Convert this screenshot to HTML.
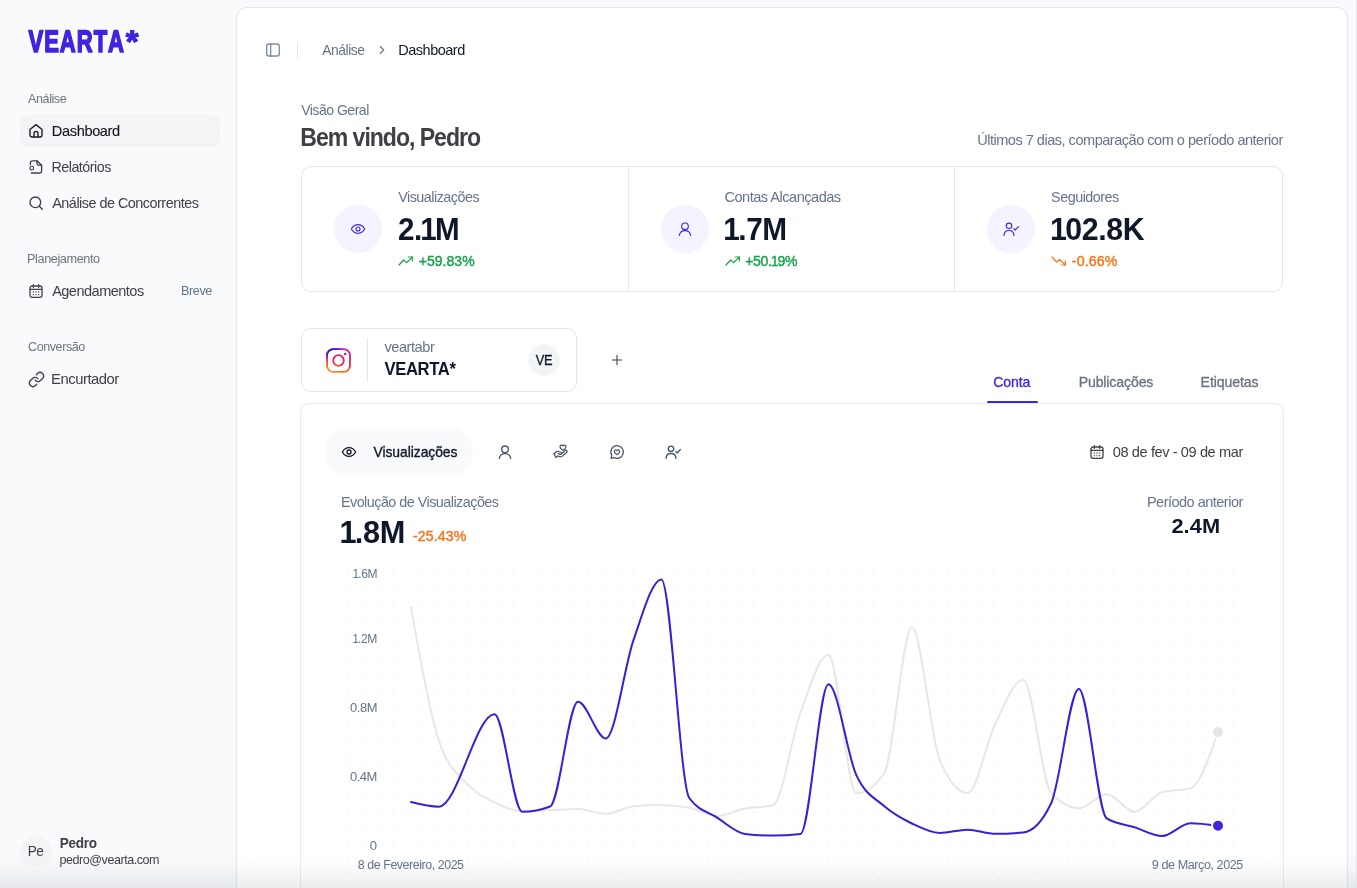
<!DOCTYPE html>
<html lang="pt-BR">
<head>
<meta charset="utf-8">
<title>VEARTA* - Dashboard</title>
<style>

*{box-sizing:border-box;margin:0;padding:0}
html,body{width:1357px;height:888px;overflow:hidden}
body{background:#f8fafc;font-family:"Liberation Sans",sans-serif;position:relative;color:#0f172a}
.t{position:absolute;white-space:nowrap;line-height:1;font-weight:400;display:block;transform-origin:0 50%}
h1,h2,h3,p,strong,small{font-weight:400}
ul,ol{list-style:none}
button{background:none;border:0;font:inherit;color:inherit;display:inline}
a{color:inherit;text-decoration:none}
.t b.k{font-weight:inherit;margin:0 -0.045em 0 -0.06em}
.ic{position:absolute;display:block;overflow:visible}
.sidebar{position:absolute;left:0;top:0;width:236px;height:888px}
.logo{position:absolute;left:28px;top:28px;overflow:visible}
.item{position:absolute;left:20px;width:200px;height:32px;border-radius:8px;background:#f3f4f6}
.avatar{position:absolute;width:32px;height:32px;border-radius:50%;background:#f4f5f7}
.panel{position:absolute;left:236px;top:7px;width:1112px;height:900px;background:#fff;border:1px solid #e2e8f0;border-radius:11px;box-shadow:0 1px 2px rgba(15,23,42,.06)}
main{position:absolute;left:0;top:0;width:1357px;height:888px}
.card{position:absolute;border:1px solid #e2e8f0;border-radius:10px;background:#fff}
.card.chart{border-color:#ebecee}
.vline{position:absolute;top:0;bottom:0;width:1px;background:#e2e8f0}
.vsep{position:absolute;width:1px;background:#e2e8f0}
.bubble{position:absolute;width:48px;height:48px;border-radius:50%;background:#f5f3ff}
.pill{position:absolute;border-radius:24px;background:#f8fafc}
.tabline{position:absolute;height:2px;background:#3f24e2;border-radius:1px}
.plot{position:absolute;left:0;top:0}
.fade{position:absolute;left:0;top:855px;width:1357px;height:33px;background:linear-gradient(to bottom,rgba(15,23,42,0),rgba(15,23,42,.01) 25%,rgba(15,23,42,.03) 50%,rgba(15,23,42,.052) 75%,rgba(15,23,42,.085));pointer-events:none}
.edge{position:absolute;left:1356px;top:0;width:1px;height:888px;background:#e4e6ec}

</style>
</head>
<body>
<aside class="sidebar" aria-label="Menu lateral">
<a class="brand" title="VEARTA*">
<svg class="logo" width="130" height="36" viewBox="0 0 130 36" role="img" aria-label="VEARTA*"><text transform="translate(0.45 24.12) rotate(0.03) scale(0.7332 1.0324)" font-family="Liberation Sans, sans-serif" font-weight="700" font-size="30" fill="#3f24e2" stroke="#3f24e2" stroke-linejoin="round" stroke-width="1.5" vector-effect="non-scaling-stroke" letter-spacing="1.4" style="font-kerning:none">VEARTA<tspan x="132.75" dy="0.20" font-size="31.05" letter-spacing="0" stroke-width="1.1" textLength="17.42" lengthAdjust="spacingAndGlyphs">*</tspan></text></svg>
</a>
<nav aria-label="Principal">
<section class="group">
<h2 class="t" id="g1" style="left:28.00px;top:93.11px;font-size:12.6px;color:#70747f;letter-spacing:-0.441px;transform:translateX(0.07px) scaleX(0.9986);">Análise</h2>
<ul>
<li><a class="nav active" aria-current="page"><span class="item" style="top:115px"></span>
<svg class="ic" style="left:28px;top:123px;color:#1f2029" width="16" height="16" viewBox="0 0 24 24" fill="none" stroke="currentColor" stroke-width="2.1" stroke-linecap="round" stroke-linejoin="round" ><path d="M3 9.800 12 2.400l9 7.400V18a3 3 0 0 1-3 3H6a3 3 0 0 1-3-3z"/><path d="M9 21v-5.200a3 3 0 0 1 6 0V21"/></svg>
<span class="t" id="m1" style="left:51.00px;top:124.11px;font-size:14.2px;color:#14161f;letter-spacing:-0.365px;-webkit-text-stroke:0.12px #14161f;transform:translateX(0.83px) scaleX(1.0284);">Dashboard</span>
</a></li>
<li><a class="nav">
<svg class="ic" style="left:28px;top:159px;color:#3f3f46" width="16" height="16" viewBox="0 0 24 24" fill="none" stroke="currentColor" stroke-width="2" stroke-linecap="round" stroke-linejoin="round" ><path d="M3.600 8.300V5.700a3 3 0 0 1 3-3h6.900l6.900 6.600v8.700a3 3 0 0 1-3 3H5.200"/><path d="M13.500 2.700v4a2.500 2.500 0 0 0 2.500 2.500h4.400"/><circle cx="5.600" cy="13.600" r="2.800" stroke-width="1.700"/></svg>
<span class="t" id="m2" style="left:51.00px;top:160.11px;font-size:14.5px;color:#3f3f46;letter-spacing:-0.508px;transform:translateX(0.44px) scaleX(0.9857);">Relatórios</span>
</a></li>
<li><a class="nav">
<svg class="ic" style="left:28px;top:195px;color:#3f3f46" width="16" height="16" viewBox="0 0 24 24" fill="none" stroke="currentColor" stroke-width="2" stroke-linecap="round" stroke-linejoin="round" ><circle cx="11" cy="11" r="8"/><path d="m17 17 4.5 4.5"/></svg>
<span class="t" id="m3" style="left:52.00px;top:196.11px;font-size:14.5px;color:#3f3f46;letter-spacing:-0.508px;transform:translateX(0.27px) scaleX(0.9930);">Análise de Concorrentes</span>
</a></li>
</ul></section>
<section class="group">
<h2 class="t" id="g2" style="left:27.00px;top:253.11px;font-size:12.6px;color:#70747f;letter-spacing:-0.441px;transform:translateX(0.05px) scaleX(1.0129);">Planejamento</h2>
<ul><li><a class="nav">
<svg class="ic" style="left:28px;top:283px;color:#3f3f46" width="16" height="16" viewBox="0 0 24 24" fill="none" stroke="currentColor" stroke-width="1.9" stroke-linecap="round" stroke-linejoin="round" ><rect x="3" y="4.5" width="18" height="17" rx="3"/><path d="M3 9.5h18M8 2.5v4M16 2.5v4"/><path d="M8 13.5h.01M12 13.5h.01M16 13.5h.01M8 17.5h.01M12 17.5h.01M16 17.5h.01" stroke-width="2"/></svg>
<span class="t" id="m4" style="left:52.00px;top:284.11px;font-size:14.5px;color:#3f3f46;letter-spacing:-0.508px;transform:translateX(0.13px) scaleX(1.0011);">Agendamentos</span>
<small class="t" id="m4b" style="left:181.00px;top:285.11px;font-size:12.6px;color:#64748b;letter-spacing:-0.441px;transform:translateX(0.09px) scaleX(1.0019);">Breve</small>
</a></li></ul></section>
<section class="group">
<h2 class="t" id="g3" style="left:27.00px;top:341.11px;font-size:12.6px;color:#70747f;letter-spacing:-0.441px;transform:translateX(0.99px) scaleX(0.9984);">Conversão</h2>
<ul><li><a class="nav">
<svg class="ic" style="left:27.5px;top:370.5px;color:#3f3f46" width="17" height="17" viewBox="0 0 24 24" fill="none" stroke="currentColor" stroke-width="1.9" stroke-linecap="round" stroke-linejoin="round" ><path d="M10 13a5 5 0 0 0 7.540.540l3-3a5 5 0 0 0-7.070-7.070l-1.720 1.710"/><path d="M14 11a5 5 0 0 0-7.540-.540l-3 3a5 5 0 0 0 7.070 7.070l1.710-1.710"/></svg>
<span class="t" id="m5" style="left:51.00px;top:372.11px;font-size:14.5px;color:#3f3f46;letter-spacing:-0.482px;transform:translateX(0.11px) scaleX(1.0225);">Encurtador</span>
</a></li></ul></section>
</nav>
<footer class="user">
<div class="avatar" style="left:20px;top:835px"></div>
<span class="t" id="u0" style="left:27.00px;top:844.11px;font-size:14.5px;color:#3f3f46;letter-spacing:-0.508px;transform:translateX(0.69px) scaleX(0.9381);">Pe</span>
<strong class="t" id="u1" style="left:59.00px;top:836.11px;font-size:14.5px;color:#3f3f46;font-weight:700;letter-spacing:-0.290px;transform:translateX(0.70px) scaleX(0.9345);">Pedro</strong>
<span class="t" id="u2" style="left:59.00px;top:854.11px;font-size:12.6px;color:#3f3f46;letter-spacing:-0.441px;transform:translateX(0.52px) scaleX(0.9935);">pedro@vearta.com</span>
</footer>
</aside>
<main>
<div class="panel"></div>
<header class="topbar">
<button class="toggle" aria-label="Alternar menu">
<svg class="ic" style="left:265px;top:42px;color:#7f8ba0" width="16" height="16" viewBox="0 0 24 24" fill="none" stroke="currentColor" stroke-width="2" stroke-linecap="round" stroke-linejoin="round" ><rect x="2.5" y="3" width="19" height="18" rx="3.5"/><path d="M8.5 3v18"/></svg>
</button>
<div class="vsep" style="left:297px;top:42px;height:16px"></div>
<nav class="breadcrumb" aria-label="breadcrumb"><ol><li>
<span class="t" id="b1" style="left:322.00px;top:43.11px;font-size:14.5px;color:#64748b;letter-spacing:-0.508px;transform:translateX(0.33px) scaleX(0.9558);">Análise</span>
</li><li aria-hidden="true">
<svg class="ic" style="left:375px;top:43px;color:#64748b" width="14" height="14" viewBox="0 0 24 24" fill="none" stroke="currentColor" stroke-width="2" stroke-linecap="round" stroke-linejoin="round" ><path d="m9 6 6 6-6 6"/></svg>
</li><li>
<span class="t" id="b2" style="left:398.00px;top:43.11px;font-size:14.5px;color:#0f172a;letter-spacing:-0.508px;transform:translateX(0.29px) scaleX(1.0009);">Dashboard</span>
</li></ol></nav>
</header>
<section class="hero">
<p class="t" id="h0" style="left:301.00px;top:103.11px;font-size:14.5px;color:#64748b;letter-spacing:-0.508px;transform:translateX(0.13px) scaleX(0.9676);">Visão Geral</p>
<h1 class="t" id="h1" style="left:300.00px;top:125.10px;font-size:25.4px;color:#3f3f46;font-weight:700;letter-spacing:-1.143px;transform:translateX(0.31px) scaleX(0.9094);">Bem vindo, Pedro</h1>
<p class="t" id="h2" style="left:977.00px;top:133.11px;font-size:14.5px;color:#64748b;letter-spacing:-0.503px;transform:translateX(0.13px) scaleX(1.0047);">Últimos 7 dias, comparação com o período anterior</p>
</section>
<section class="stats-wrap" aria-label="Resumo">
<div class="card stats" style="left:301px;top:166px;width:982px;height:126px">
<div class="vline" style="left:326px"></div><div class="vline" style="left:652px"></div>
</div>
<article class="stat">
<div class="bubble" style="left:334px;top:205px"></div>
<svg class="ic" style="left:350px;top:221px;color:#3f24e2" width="16" height="16" viewBox="0 0 24 24" fill="none" stroke="currentColor" stroke-width="1.7" stroke-linecap="round" stroke-linejoin="round" ><path d="M2 12c2.4-4.3 5.8-6.5 10-6.5s7.600 2.2 10 6.500c-2.400 4.300-5.800 6.500-10 6.500S4.400 16.300 2 12z"/><circle cx="12" cy="12" r="3"/></svg>
<h3 class="t" id="s0a" style="left:398.00px;top:190.11px;font-size:14.5px;color:#64748b;letter-spacing:-0.508px;transform:translateX(0.20px) scaleX(0.9890);">Visualizações</h3>
<strong class="t" id="s0b" style="left:397.00px;top:214.11px;font-size:31px;color:#0f172a;font-weight:700;letter-spacing:-0.372px;transform:translateX(0.95px) scaleX(0.9540);">2.<b class="k">1</b>M</strong>
<svg class="ic" style="left:398px;top:253px;color:#16a34a" width="16" height="16" viewBox="0 0 24 24" fill="none" stroke="currentColor" stroke-width="1.8" stroke-linecap="round" stroke-linejoin="round" ><path d="M1.500 18 8.500 10.500l4.500 4L21.500 6"/><path d="M15.500 6h6v6"/></svg>
<span class="t" id="s0c" style="left:418.00px;top:255.11px;font-size:13.9px;color:#16a34a;letter-spacing:0.044px;-webkit-text-stroke:0.4px #16a34a;transform:translateX(0.66px) scaleX(1.0091);">+59.83%</span>
</article>
<article class="stat">
<div class="bubble" style="left:661px;top:205px"></div>
<svg class="ic" style="left:677px;top:221px;color:#3f24e2" width="16" height="16" viewBox="0 0 24 24" fill="none" stroke="currentColor" stroke-width="1.7" stroke-linecap="round" stroke-linejoin="round" ><circle cx="12" cy="8" r="5"/><path d="M3.500 21.500c.9-4.300 4.200-7 8.500-7s7.600 2.700 8.500 7"/></svg>
<h3 class="t" id="s1a" style="left:724.00px;top:190.11px;font-size:14.5px;color:#64748b;letter-spacing:-0.508px;transform:translateX(0.46px) scaleX(1.0057);">Contas Alcançadas</h3>
<strong class="t" id="s1b" style="left:725.00px;top:214.11px;font-size:31px;color:#0f172a;font-weight:700;letter-spacing:-0.372px;transform:translateX(0.12px) scaleX(0.9609);"><b class="k">1</b>.7M</strong>
<svg class="ic" style="left:725px;top:253px;color:#16a34a" width="16" height="16" viewBox="0 0 24 24" fill="none" stroke="currentColor" stroke-width="1.8" stroke-linecap="round" stroke-linejoin="round" ><path d="M1.500 18 8.500 10.500l4.500 4L21.500 6"/><path d="M15.500 6h6v6"/></svg>
<span class="t" id="s1c" style="left:745.00px;top:255.11px;font-size:13.9px;color:#16a34a;letter-spacing:-0.364px;-webkit-text-stroke:0.4px #16a34a;transform:translateX(0.13px) scaleX(1.0157);">+50.<b class="k">1</b>9%</span>
</article>
<article class="stat">
<div class="bubble" style="left:987px;top:205px"></div>
<svg class="ic" style="left:1003px;top:221px;color:#3f24e2" width="16" height="16" viewBox="0 0 24 24" fill="none" stroke="currentColor" stroke-width="1.7" stroke-linecap="round" stroke-linejoin="round" ><circle cx="9" cy="7.200" r="4.100"/><path d="M1.500 21.500c.4-4.500 3.300-7.300 7.500-7.300s7.100 2.800 7.500 7.300"/><path d="m16.200 11.300 2.100 2.300 4.700-5.300"/></svg>
<h3 class="t" id="s2a" style="left:1051.00px;top:190.11px;font-size:14.5px;color:#64748b;letter-spacing:-0.508px;transform:translateX(0.12px) scaleX(0.9907);">Seguidores</h3>
<strong class="t" id="s2b" style="left:1051.00px;top:214.11px;font-size:31px;color:#0f172a;font-weight:700;letter-spacing:-0.372px;transform:translateX(0.93px) scaleX(0.9771);"><b class="k">1</b>02.8K</strong>
<svg class="ic" style="left:1051px;top:253px;color:#f97316" width="16" height="16" viewBox="0 0 24 24" fill="none" stroke="currentColor" stroke-width="1.8" stroke-linecap="round" stroke-linejoin="round" ><path d="M1.500 6 8.500 13.500l4.500-4L21.500 18"/><path d="M15.500 18h6v-6"/></svg>
<span class="t" id="s2c" style="left:1071.00px;top:255.11px;font-size:13.9px;color:#f97316;letter-spacing:0.137px;-webkit-text-stroke:0.4px #f97316;transform:translateX(0.79px) scaleX(1.0175);">-0.66%</span>
</article>
</section>
<section class="account" aria-label="Conta conectada">
<div class="card" style="left:301px;top:328px;width:276px;height:64px"></div>
<svg class="ic" style="left:326px;top:348px" width="25" height="25" viewBox="0 0 24 24" fill="none" role="img" aria-label="Instagram">
<defs><linearGradient id="ig" x1="15.86" y1="-0.28" x2="8.06" y2="24.55" gradientUnits="userSpaceOnUse"><stop offset="0" stop-color="#c81eb4"/><stop offset="0.154" stop-color="#de2090"/><stop offset="0.25" stop-color="#e6235a"/><stop offset="0.6" stop-color="#e8285a"/><stop offset="0.7" stop-color="#f4611a"/><stop offset="0.846" stop-color="#f97316"/><stop offset="1" stop-color="#fc9a4a"/></linearGradient>
<radialGradient id="ib" cx="0" cy="0" r="1" gradientUnits="userSpaceOnUse" gradientTransform="translate(2.5 1.5) scale(13.5 9.5)"><stop offset="0" stop-color="#2a14ee"/><stop offset="0.5" stop-color="#3a1be8"/><stop offset="0.8" stop-color="#7a1cd0" stop-opacity="0.7"/><stop offset="1" stop-color="#c81eb4" stop-opacity="0"/></radialGradient></defs>
<g stroke-width="1.75"><rect x="1" y="1" width="22" height="22" rx="6" stroke="url(#ig)"/><rect x="1" y="1" width="22" height="22" rx="6" stroke="url(#ib)"/><circle cx="12" cy="12" r="5.1" stroke="url(#ig)"/></g><circle cx="18.400" cy="5.700" r="1.250" fill="#c81eb4"/></svg>
<div class="vsep" style="left:367px;top:338px;height:44px"></div>
<span class="t" id="a1" style="left:384.00px;top:340.11px;font-size:14.5px;color:#64748b;letter-spacing:-0.443px;transform:translateX(0.40px) scaleX(1.0061);">veartabr</span>
<strong class="t" id="a2" style="left:384.00px;top:360.11px;font-size:18.6px;color:#0f172a;font-weight:700;letter-spacing:-0.372px;transform:translateX(0.40px) scaleX(0.8941);">VEARTA*</strong>
<div class="avatar" style="left:528px;top:344px"></div>
<span class="t" id="a3" style="left:535.00px;top:354.11px;font-size:13.9px;color:#0f172a;letter-spacing:-0.487px;-webkit-text-stroke:0.3px #0f172a;transform:translateX(0.87px) scaleX(0.9238);">VE</span>
<button class="add" aria-label="Adicionar conta">
<svg class="ic" style="left:609px;top:352px;color:#3f3f46" width="16" height="16" viewBox="0 0 24 24" fill="none" stroke="currentColor" stroke-width="1.6" stroke-linecap="round" stroke-linejoin="round" ><path d="M12 5v14M5 12h14"/></svg>
</button>
</section>
<nav class="tabs" role="tablist">
<a role="tab" aria-selected="true">
<span class="t" id="t1" style="left:993.00px;top:376.11px;font-size:13.9px;color:#3f24e2;letter-spacing:-0.145px;-webkit-text-stroke:0.3px #3f24e2;transform:translateX(0.26px) scaleX(1.0138);">Conta</span>
<span class="tabline" style="left:987px;top:401px;width:51px"></span>
</a><a role="tab">
<span class="t" id="t2" style="left:1078.00px;top:376.11px;font-size:13.9px;color:#6b7280;letter-spacing:-0.131px;-webkit-text-stroke:0.3px #6b7280;transform:translateX(0.65px) scaleX(1.0157);">Publicações</span>
</a><a role="tab">
<span class="t" id="t3" style="left:1200.00px;top:376.11px;font-size:13.9px;color:#6b7280;letter-spacing:-0.103px;-webkit-text-stroke:0.3px #6b7280;transform:translateX(0.58px) scaleX(1.0174);">Etiquetas</span>
</a>
</nav>
<section class="chart-wrap" aria-label="Evolução de Visualizações">
<div class="card chart" style="left:300px;top:403px;width:984px;height:520px"></div>
<div class="metrics" role="group">
<button class="metric on"><span class="pill" style="left:325px;top:428px;width:148px;height:48px"></span>
<svg class="ic" style="left:341px;top:444px;color:#0f172a" width="16" height="16" viewBox="0 0 24 24" fill="none" stroke="currentColor" stroke-width="2" stroke-linecap="round" stroke-linejoin="round" ><path d="M2 12c2.4-4.3 5.8-6.5 10-6.5s7.600 2.2 10 6.500c-2.400 4.300-5.800 6.500-10 6.500S4.400 16.300 2 12z"/><circle cx="12" cy="12" r="3"/></svg>
<span class="t" id="c1" style="left:373.47px;top:446.11px;font-size:13.9px;color:#0f172a;letter-spacing:-0.057px;-webkit-text-stroke:0.35px #0f172a;">Visualizações</span>
</button>
<button class="metric" aria-label="Contas alcançadas"><svg class="ic" style="left:497px;top:444px;color:#475569" width="16" height="16" viewBox="0 0 24 24" fill="none" stroke="currentColor" stroke-width="2" stroke-linecap="round" stroke-linejoin="round" ><circle cx="12" cy="8" r="5"/><path d="M3.500 21.500c.9-4.300 4.200-7 8.500-7s7.600 2.700 8.500 7"/></svg></button>
<button class="metric" aria-label="Curtidas"><svg class="ic" style="left:553px;top:444px;color:#475569" width="16" height="16" viewBox="0 0 24 24" fill="none" stroke="currentColor" stroke-width="1.9" stroke-linecap="round" stroke-linejoin="round" ><path d="M1.500 14.500 5 11.800c1-.8 2.300-1 3.500-.5l3.500 1.400c1 .4 1.300 1.600.6 2.400-.5.600-1.300.7-2 .4L8 14.500"/><path d="M13 14.200l5-4.200c.8-.7 2-.6 2.700.2.600.8.500 1.900-.2 2.500l-6.500 5.500c-1 .9-2.400 1.200-3.700.8L7 18 4.500 20.500 1.500 14.500"/><path d="M15 9.500c-2.300-1.500-4.500-3.200-4.500-5.400 0-2.600 2.900-3.200 4.500-1.400 1.600-1.800 4.500-1.200 4.500 1.400 0 2.200-2.200 3.900-4.500 5.400z"/></svg></button>
<button class="metric" aria-label="Comentários"><svg class="ic" style="left:609px;top:444px;color:#475569" width="16" height="16" viewBox="0 0 24 24" fill="none" stroke="currentColor" stroke-width="1.9" stroke-linecap="round" stroke-linejoin="round" ><path d="M12 2.500a9.500 9.500 0 1 1-4.600 17.800L3 21.500l1.200-4.400A9.500 9.500 0 0 1 12 2.500z"/><path d="M12 16c-2.200-1.500-4-3-4-4.900 0-2.300 2.600-2.900 4-1.200 1.400-1.700 4-1.100 4 1.200 0 1.900-1.800 3.400-4 4.900z"/></svg></button>
<button class="metric" aria-label="Seguidores"><svg class="ic" style="left:665px;top:444px;color:#475569" width="16" height="16" viewBox="0 0 24 24" fill="none" stroke="currentColor" stroke-width="2" stroke-linecap="round" stroke-linejoin="round" ><circle cx="9" cy="7.200" r="4.100"/><path d="M1.500 21.500c.4-4.500 3.300-7.300 7.500-7.300s7.100 2.800 7.500 7.300"/><path d="m16.200 11.300 2.100 2.300 4.700-5.300"/></svg></button>
</div>
<button class="range">
<svg class="ic" style="left:1089px;top:444px;color:#3f3f46" width="16" height="16" viewBox="0 0 24 24" fill="none" stroke="currentColor" stroke-width="1.9" stroke-linecap="round" stroke-linejoin="round" ><rect x="3" y="4.5" width="18" height="17" rx="3"/><path d="M3 9.5h18M8 2.5v4M16 2.5v4"/><path d="M8 13.5h.01M12 13.5h.01M16 13.5h.01M8 17.5h.01M12 17.5h.01M16 17.5h.01" stroke-width="2"/></svg>
<span class="t" id="c2" style="left:1112.00px;top:445.11px;font-size:14.5px;color:#3f3f46;letter-spacing:-0.406px;transform:translateX(0.80px) scaleX(1.0059);">08 de fev - 09 de mar</span>
</button>
<h3 class="t" id="c3" style="left:340.00px;top:495.11px;font-size:14.5px;color:#64748b;letter-spacing:-0.508px;transform:translateX(0.92px) scaleX(0.9877);">Evolução de Visualizações</h3>
<strong class="t" id="c4" style="left:341.00px;top:517.11px;font-size:31px;color:#0f172a;font-weight:700;letter-spacing:-0.372px;transform:translateX(0.27px) scaleX(0.9909);"><b class="k">1</b>.8M</strong>
<span class="t" id="c5" style="left:413.00px;top:530.11px;font-size:13.9px;color:#f97316;letter-spacing:0.108px;-webkit-text-stroke:0.4px #f97316;transform:translateX(0.06px) scaleX(1.0168);">-25.43%</span>
<h3 class="t" id="c6" style="left:1146.00px;top:495.11px;font-size:14.5px;color:#64748b;letter-spacing:-0.508px;transform:translateX(0.92px) scaleX(0.9998);">Período anterior</h3>
<strong class="t" id="c7" style="left:1171.00px;top:516.12px;font-size:20.8px;color:#0f172a;font-weight:700;letter-spacing:0.050px;transform:translateX(0.43px) scaleX(1.0496);">2.4M</strong>
<figure>
<svg class="plot" width="1357" height="888" viewBox="0 0 1357 888" role="img" aria-label="Gráfico de visualizações">
<defs><pattern id="dots" x="340.5" y="564.5" width="15" height="15" patternUnits="userSpaceOnUse"><rect x="7" y="7" width="1.6" height="1.6" rx="0.5" fill="#eceeef"/></pattern></defs>
<rect x="340" y="564" width="900" height="315" fill="url(#dots)"/>
<path d="M411.00,607.30C420.28,659.52,429.55,711.73,438.83,740.40C448.10,769.07,457.38,773.08,466.66,783.40C475.93,793.72,485.21,797.62,494.48,802.30C503.76,806.98,513.03,811.50,522.31,811.50C531.59,811.50,540.86,810.53,550.14,810.10C559.41,809.67,568.69,808.90,577.97,808.90C587.24,808.90,596.52,813.80,605.79,813.80C615.07,813.80,624.34,807.07,633.62,806.20C642.90,805.33,652.17,804.90,661.45,804.90C670.72,804.90,680.00,805.85,689.28,807.70C698.55,809.55,707.83,816.00,717.10,816.00C726.38,816.00,735.66,810.33,744.93,808.60C754.21,806.87,763.48,807.60,772.76,805.60C782.03,803.60,791.31,737.65,800.59,712.50C809.86,687.35,819.14,654.70,828.41,654.70C837.69,654.70,846.97,793.30,856.24,793.30C865.52,793.30,874.79,786.70,884.07,773.50C893.34,760.30,902.62,627.60,911.90,627.60C921.17,627.60,930.45,738.00,939.72,760.00C949.00,782.00,958.28,793.00,967.55,793.00C976.83,793.00,986.10,742.37,995.38,723.50C1004.66,704.63,1013.93,679.80,1023.21,679.80C1032.48,679.80,1041.76,782.30,1051.03,792.70C1060.31,803.10,1069.59,808.30,1078.86,808.30C1088.14,808.30,1097.41,794.20,1106.69,794.20C1115.97,794.20,1125.24,811.90,1134.52,811.90C1143.79,811.90,1153.07,794.40,1162.34,792.00C1171.62,789.60,1180.90,790.80,1190.17,788.40C1199.45,786.00,1208.72,759.05,1218.00,732.10" fill="none" stroke="#e7e7ea" stroke-width="2" stroke-linecap="round"/>
<path d="M411.00,802.00C420.28,804.35,429.55,806.70,438.83,806.70C457.38,806.70,475.93,714.30,494.48,714.30C503.76,714.30,513.03,811.80,522.31,811.80C531.59,811.80,540.86,810.03,550.14,806.50C559.41,802.97,568.69,701.70,577.97,701.70C587.24,701.70,596.52,738.50,605.79,738.50C615.07,738.50,624.34,666.22,633.62,639.70C642.90,613.18,652.17,579.40,661.45,579.40C670.72,579.40,680.00,784.93,689.28,798.00C698.55,811.07,707.83,811.62,717.10,817.60C726.38,823.58,735.66,832.77,744.93,833.90C754.21,835.03,763.48,835.60,772.76,835.60C782.03,835.60,791.31,835.03,800.59,833.90C809.86,832.77,819.14,684.20,828.41,684.20C837.69,684.20,846.97,754.60,856.24,774.90C865.52,795.20,874.79,797.90,884.07,806.00C893.34,814.10,902.62,819.00,911.90,823.50C921.17,828.00,930.45,833.00,939.72,833.00C949.00,833.00,958.28,829.70,967.55,829.70C976.83,829.70,986.10,833.80,995.38,833.80C1004.66,833.80,1013.93,833.37,1023.21,832.50C1032.48,831.63,1041.76,822.83,1051.03,803.50C1060.31,784.17,1069.59,688.90,1078.86,688.90C1088.14,688.90,1097.41,812.47,1106.69,818.40C1115.97,824.33,1125.24,824.35,1134.52,827.30C1143.79,830.25,1153.07,836.10,1162.34,836.10C1171.62,836.10,1180.90,823.30,1190.17,823.30C1199.45,823.30,1208.72,824.55,1218.00,825.80" fill="none" stroke="#3a1fd8" stroke-width="2" stroke-linecap="round"/>
<circle cx="1218" cy="732.1" r="6" fill="#e5e5e8" stroke="#fff" stroke-width="2"/>
<circle cx="1218" cy="825.8" r="6" fill="#3f24e2" stroke="#fff" stroke-width="2"/>
</svg>
<figcaption>
<span class="t" id="y0" style="left:353.00px;top:568.11px;font-size:12.6px;color:#64748b;letter-spacing:-0.441px;transform:translateX(0.20px) scaleX(0.9562);"><b class="k">1</b>.6M</span>
<span class="t" id="y1" style="left:353.00px;top:633.11px;font-size:12.6px;color:#64748b;letter-spacing:-0.441px;transform:translateX(0.05px) scaleX(0.9618);"><b class="k">1</b>.2M</span>
<span class="t" id="y2" style="left:350.00px;top:702.11px;font-size:12.6px;color:#64748b;letter-spacing:-0.441px;transform:translateX(0.05px) scaleX(1.0273);">0.8M</span>
<span class="t" id="y3" style="left:349.00px;top:771.11px;font-size:12.6px;color:#64748b;letter-spacing:-0.441px;transform:translateX(0.90px) scaleX(1.0326);">0.4M</span>
<span class="t" id="y4" style="left:369.00px;top:840.11px;font-size:12.6px;color:#64748b;letter-spacing:-0.441px;transform:translateX(0.81px) scaleX(1.0428);">0</span>
<span class="t" id="x0" style="left:357.00px;top:859.11px;font-size:12.6px;color:#64748b;letter-spacing:-0.441px;transform:translateX(0.86px) scaleX(0.9843);">8 de Fevereiro, 2025</span>
<span class="t" id="x1" style="left:1151.00px;top:859.11px;font-size:12.6px;color:#64748b;letter-spacing:-0.441px;transform:translateX(0.86px) scaleX(1.0008);">9 de Março, 2025</span>
</figcaption></figure>
</section>
</main>
<div class="fade"></div><div class="edge"></div>
</body>
</html>
